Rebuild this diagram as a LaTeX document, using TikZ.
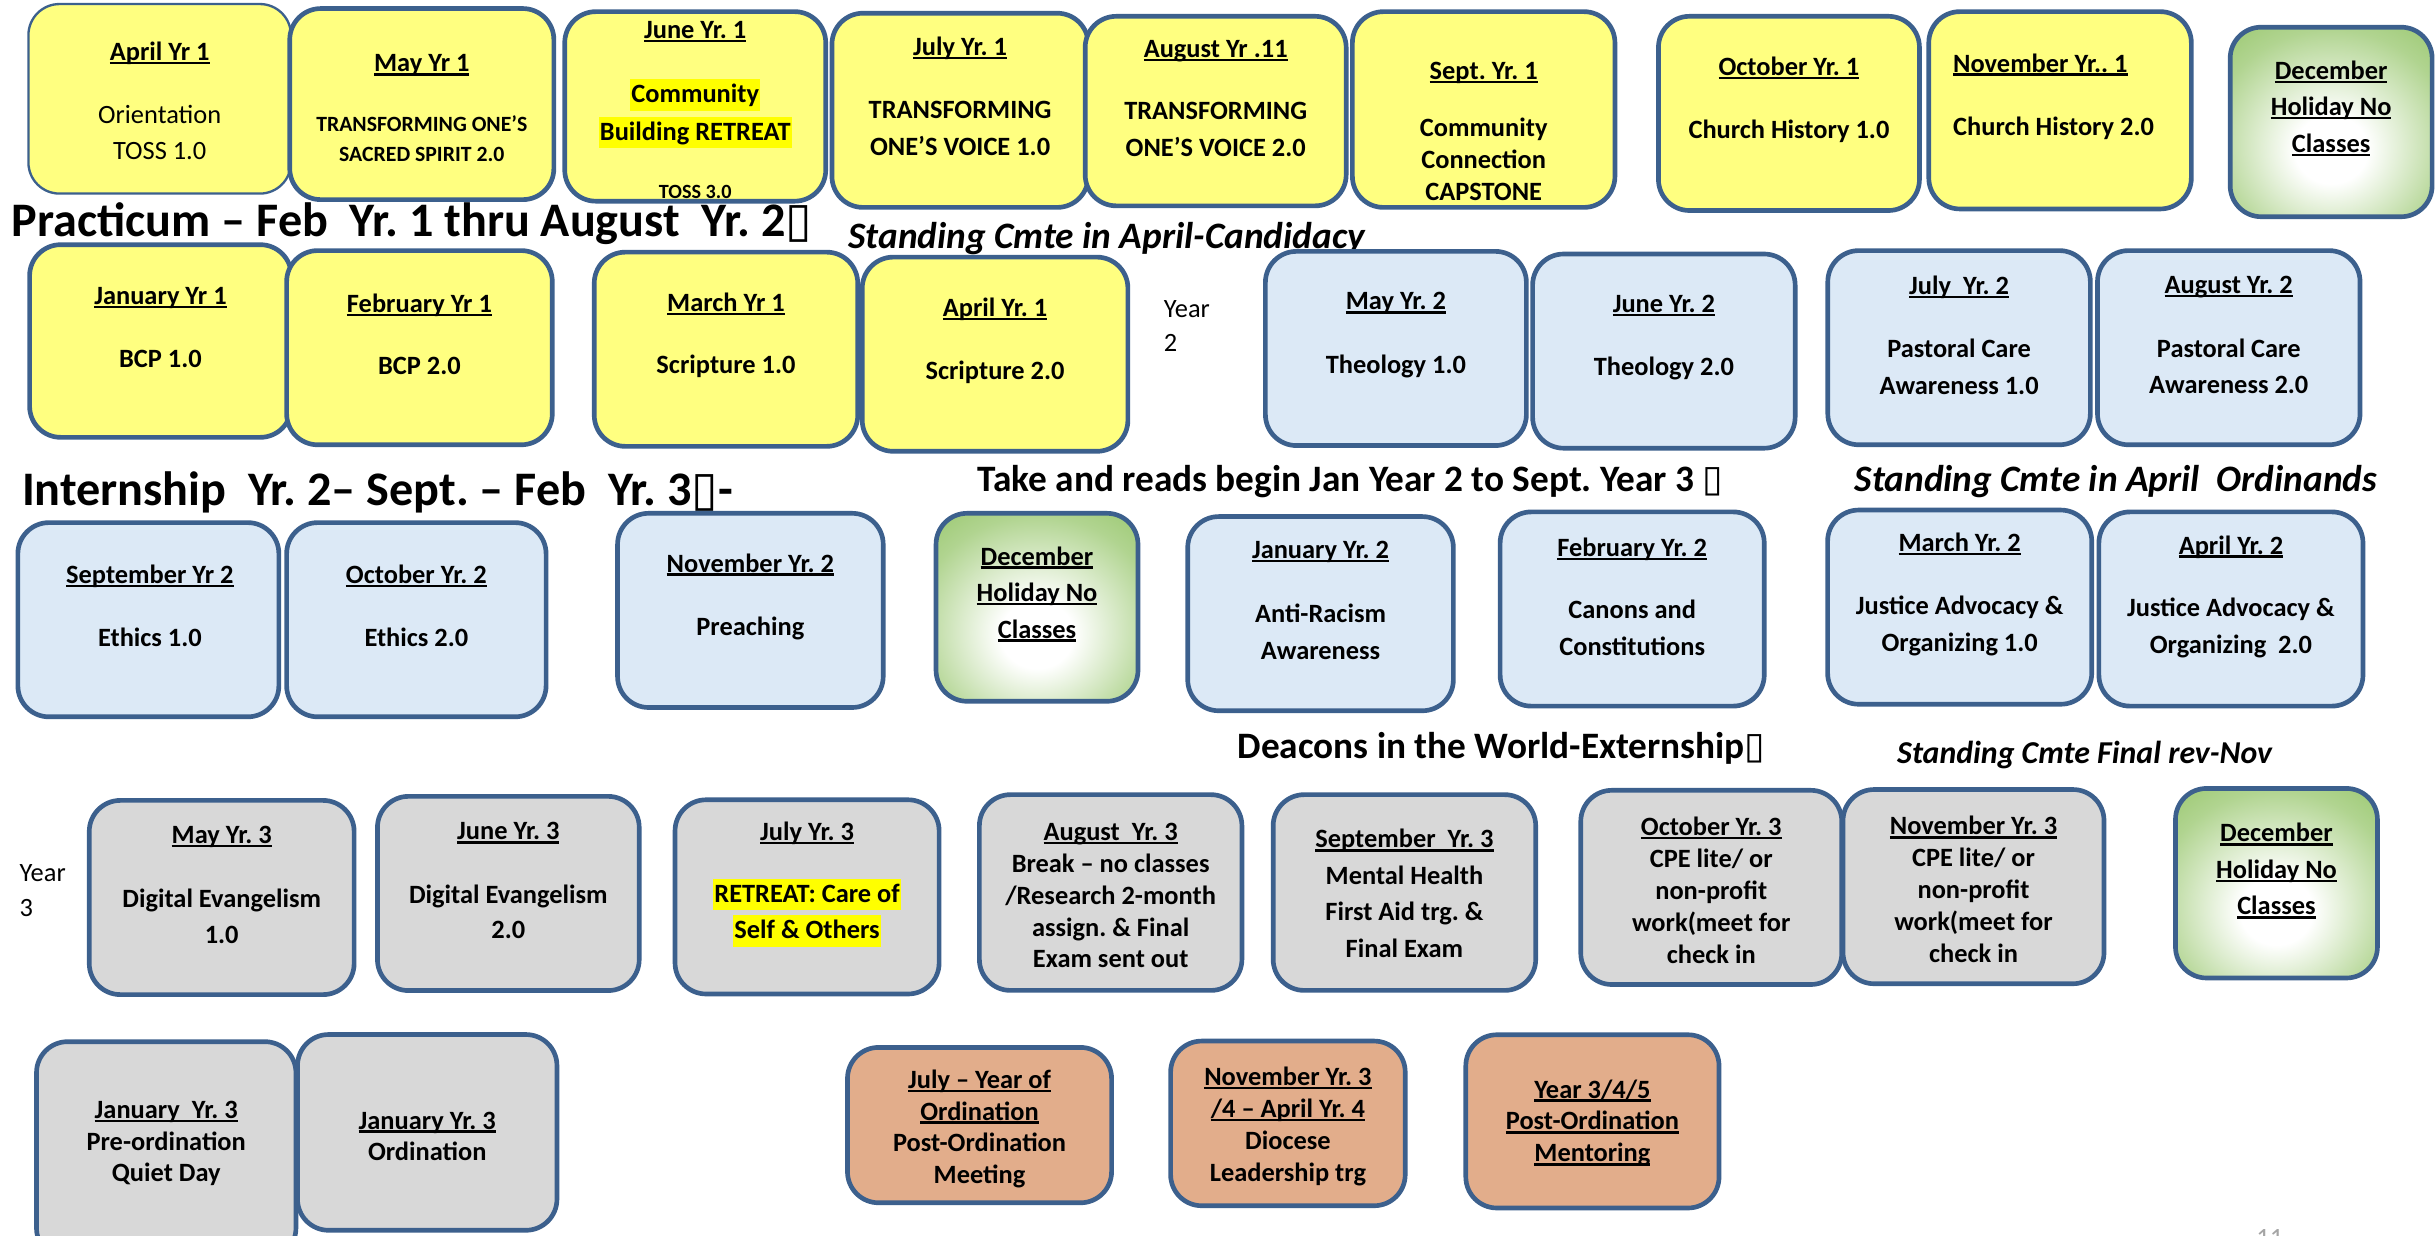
\documentclass[tikz,border=0pt]{standalone}
\usepackage{fontspec}
\setmainfont{Carlito}
\newfontfamily\symfont{DejaVu Sans}
\usepackage{tikz}

\definecolor{slotline}{RGB}{60,96,141}
\definecolor{slotyellow}{RGB}{255,255,128}
\definecolor{slotblue}{RGB}{220,233,246}
\definecolor{slotgrey}{RGB}{216,216,216}
\definecolor{slotorange}{RGB}{226,173,139}
\definecolor{holgreen}{RGB}{140,192,92}
\definecolor{hlyellow}{RGB}{255,255,0}
\definecolor{pagegrey}{RGB}{165,165,165}

% holiday boxes: white middle, green rim
\pgfdeclareradialshading{holshade}{\pgfpoint{0bp}{-8bp}}{color(0bp)=(white); color(9bp)=(white); color(30bp)=(holgreen!68); color(46bp)=(holgreen); color(100bp)=(holgreen)}

\newsavebox\undlbox
\newcommand\undl[1]{\sbox\undlbox{#1}\rlap{\rule[-0.14em]{\wd\undlbox}{0.09em}}\usebox\undlbox}
\newcommand\hlt[1]{{\setlength\fboxsep{0.8pt}\colorbox{hlyellow}{\rule[-0.26em]{0pt}{1.1em}#1}}}
\newcommand\tofu{{\symfont\char"25AF}}

\begin{document}
\frenchspacing
\begin{tikzpicture}[x=1pt, y=-1pt,
    slot/.style={draw=slotline, line width=3pt, rounded corners=20pt, inner sep=0pt, minimum width=168pt, minimum height=125pt},
    ylw/.style={slot, fill=slotyellow},
    blu/.style={slot, fill=slotblue},
    gry/.style={slot, fill=slotgrey},
    org/.style={slot, fill=slotorange},
    hol/.style={slot, shading=holshade, minimum width=130pt, minimum height=122pt},
    txt/.style={align=center, inner sep=0pt, font=\fontsize{17}{23.5}\selectfont\bfseries},
    tight/.style={txt, font=\fontsize{17}{20.5}\selectfont\bfseries},
    plain/.style={txt, align=left, anchor=west, font=\fontsize{17}{23.5}\selectfont},
    head/.style={anchor=west, inner sep=0pt, text height=20.5pt, text depth=6.8pt, font=\fontsize{31}{35}\selectfont\bfseries},
    sub/.style={anchor=west, inner sep=0pt, font=\fontsize{24}{28}\selectfont\bfseries},
    note/.style={sub, font=\fontsize{24}{28}\selectfont\bfseries\itshape}]

    % Page
    \path[fill=white, use as bounding box] (0,0) rectangle (1568,795);

    % Year 1
    \node[ylw, line width=1.5pt, minimum width=169pt, minimum height=122pt] (apr1) at (102.8,63.6) {};
    \node[ylw, minimum width=170pt, minimum height=123pt] (may1) at (271.5,67) {};
    \node[ylw, minimum height=122pt] (jun1) at (447.5,68.5) {};
    \node[ylw, minimum width=165pt] (jul1) at (618,71) {};
    \node[ylw, minimum height=122pt] (aug1) at (782.5,71.5) {};
    \node[ylw, minimum width=169pt, minimum height=126pt] (sep1) at (955,70.5) {};
    \node[ylw] (oct1) at (1151.5,73) {};
    \node[ylw, minimum width=169pt, minimum height=127pt] (nov1) at (1326,71) {};
    \node[hol] (dec1) at (1500.5,78.5) {};

    \node[txt] (apr1t) at (102.8,65) {\undl{April Yr 1}\\[16.6pt] {\mdseries Orientation}\\ {\mdseries TOSS 1.0}};
    \node[txt] (may1t) at (271.5,69.5) {\undl{May Yr 1}\\[14.7pt] {\fontsize{14}{16}\selectfont TRANSFORMING ONE’S}\\[-4.2pt] {\fontsize{14}{16}\selectfont SACRED SPIRIT 2.0}};
    \node[txt] (jun1t) at (447.5,70.8) {\undl{June Yr. 1}\\[17.7pt] \hlt{Community}\\[0.8pt] \hlt{Building RETREAT}\\[14pt] {\fontsize{13}{15}\selectfont TOSS 3.0}};
    \node[txt] (jul1t) at (618,62) {\undl{July Yr. 1}\\[17.3pt] TRANSFORMING\\ ONE’S VOICE 1.0};
    \node[txt] (aug1t) at (782.5,63.3) {\undl{August Yr .11}\\[16.9pt] TRANSFORMING\\ ONE’S VOICE 2.0};
    \node[txt] (sep1t) at (955,84.5) {\undl{Sept. Yr. 1}\\[13.4pt] Community\\[-3.1pt] Connection\\[-3.1pt] CAPSTONE};
    \node[txt] (oct1t) at (1151.5,64.4) {\undl{October Yr. 1}\\[17.3pt] Church History 1.0};
    \node[txt, align=left, anchor=west] (nov1t) at (1257,62.2) {\undl{November Yr.. 1}\\[17.3pt] Church History 2.0};
    \node[txt] (dec1t) at (1500.5,69.7) {\undl{December}\\ \undl{Holiday No}\\ \undl{Classes}};

    \node[head] (practicum) at (7.5,145.5) {Practicum – Feb\ \ Yr. 1 thru August\ \ Yr. 2\tofu};
    \node[note] (candidacy) at (546,153.4) {Standing Cmte in April-Candidacy};

    % Practicum
    \node[ylw, minimum width=168.5pt, minimum height=124pt] (jan1) at (103.3,219.5) {};
    \node[ylw, minimum width=171pt] (feb1) at (270,223.8) {};
    \node[ylw, minimum width=169.6pt] (mar1) at (467.3,224.8) {};
    \node[ylw, minimum width=171pt] (apr1b) at (640.5,228) {};
    \node[blu] (may2) at (898.5,224.3) {};
    \node[blu, minimum width=169pt] (jun2) at (1071,226) {};
    \node[blu, minimum width=169pt] (jul2) at (1261,223.8) {};
    \node[blu, minimum width=169pt] (aug2) at (1434.6,223.8) {};

    \node[txt] (jan1t) at (103.3,210.8) {\undl{January Yr 1}\\[16.9pt] BCP 1.0};
    \node[txt] (feb1t) at (270,215.4) {\undl{February Yr 1}\\[16.6pt] BCP 2.0};
    \node[txt] (mar1t) at (467.3,215.9) {\undl{March Yr 1}\\[16.8pt] Scripture 1.0};
    \node[txt] (apr1bt) at (640.5,219.2) {\undl{April Yr. 1}\\[16.8pt] Scripture 2.0};
    \node[plain] (year2) at (749,210) {Year\\[-1.5pt] 2};
    \node[txt] (may2t) at (898.5,215.7) {\undl{May Yr. 2}\\[17.2pt] Theology 1.0};
    \node[txt] (jun2t) at (1071,217.4) {\undl{June Yr. 2}\\[17.3pt] Theology 2.0};
    \node[txt] (jul2t) at (1261,215.7) {\undl{July\ \ Yr. 2}\\[17.3pt] Pastoral Care\\ Awareness 1.0};
    \node[txt] (aug2t) at (1434.6,215.7) {\undl{August Yr. 2}\\[17.3pt] Pastoral Care\\ Awareness 2.0};

    \node[head] (internship) at (14,318.3) {Internship\ \ Yr. 2– Sept. – Feb\ \ Yr. 3\tofu-};
    \node[sub] (takeread) at (629,310) {Take and reads begin Jan Year 2 to Sept. Year 3 \tofu};
    \node[note] (ordinands) at (1193.7,310) {Standing Cmte in April\ \ Ordinands};

    % Internship
    \node[blu] (sep2) at (95.5,398.9) {};
    \node[blu, minimum width=167pt] (oct2) at (268,398.9) {};
    \node[blu, minimum width=171pt] (nov2) at (483,392.9) {};
    \node[hol, minimum height=121pt] (dec2) at (667.5,390.9) {};
    \node[blu, minimum width=171pt] (jan2) at (850,395) {};
    \node[blu, minimum width=170pt] (feb2) at (1050.6,392) {};
    \node[blu, minimum width=170pt] (mar2) at (1261.4,390.8) {};
    \node[blu, minimum width=170pt] (apr2) at (1436,392) {};

    \node[txt] (sep2t) at (96.5,389.9) {\undl{September Yr 2}\\[17.3pt] Ethics 1.0};
    \node[txt] (oct2t) at (268,389.9) {\undl{October Yr. 2}\\[17.3pt] Ethics 2.0};
    \node[txt] (nov2t) at (483,384.1) {\undl{November Yr. 2}\\[17.3pt] Preaching};
    \node[txt] (dec2t) at (667.5,382.4) {\undl{December}\\ \undl{Holiday No}\\ \undl{Classes}};
    \node[txt] (jan2t) at (850,386.3) {\undl{January Yr. 2}\\[17.8pt] Anti-Racism\\ Awareness};
    \node[txt] (feb2t) at (1050.6,384) {\undl{February Yr. 2}\\[16.5pt] Canons and\\ Constitutions};
    \node[txt] (mar2t) at (1261.4,382.6) {\undl{March Yr. 2}\\[17.1pt] Justice Advocacy \&\\ Organizing 1.0};
    \node[txt] (apr2t) at (1436,384) {\undl{April Yr. 2}\\[16.8pt] Justice Advocacy \&\\ Organizing\ \ 2.0};

    \node[sub] (deacons) at (796.4,481.8) {Deacons in the World-Externship\tofu};
    \node[note, font=\fontsize{20.5}{24}\selectfont\bfseries\itshape] (finalrev) at (1221,486) {Standing Cmte Final rev-Nov};

    % Externship
    \node[plain] (year3) at (12.5,573.4) {Year\\[-0.8pt] 3};
    \node[gry, minimum width=170.5pt] (may3) at (142.7,577.7) {};
    \node[gry, minimum width=168.5pt] (jun3) at (327.2,575.1) {};
    \node[gry, minimum width=170pt] (jul3) at (519.5,577.3) {};
    \node[gry, minimum width=169pt, minimum height=126pt] (aug3) at (714.9,574.5) {};
    \node[gry, minimum width=169pt, minimum height=126pt] (sep3) at (904,574.5) {};
    \node[gry] (oct3) at (1101.5,571.2) {};
    \node[gry] (nov3) at (1270.3,570.7) {};
    \node[hol] (dec3) at (1465.3,568.5) {};

    \node[txt] (may3t) at (142.7,569.7) {\undl{May Yr. 3}\\[17.3pt] Digital Evangelism\\ 1.0};
    \node[txt] (jun3t) at (327.2,566.9) {\undl{June Yr. 3}\\[17.5pt] Digital Evangelism\\[-0.8pt] 2.0};
    \node[txt] (jul3t) at (519.5,569.2) {\undl{July Yr. 3}\\[16.2pt] \hlt{RETREAT: Care of}\\ \hlt{Self \& Others}};
    \node[tight] (aug3t) at (714.9,576.5) {\undl{August\ \ Yr. 3}\\ Break – no classes\\ /Research 2-month\\ assign. \& Final\\ Exam sent out};
    \node[txt] (sep3t) at (904,575.1) {\undl{September\ \ Yr. 3}\\ Mental Health\\ First Aid trg. \&\\ Final Exam};
    \node[tight] (oct3t) at (1101.5,573) {\undl{October Yr. 3}\\ CPE lite/ or\\ non-profit\\ work(meet for\\ check in};
    \node[tight] (nov3t) at (1270.3,572.5) {\undl{November Yr. 3}\\ CPE lite/ or\\ non-profit\\ work(meet for\\ check in};
    \node[txt] (dec3t) at (1465.3,560.6) {\undl{December}\\ \undl{Holiday No}\\ \undl{Classes}};

    % Ordination
    \node[gry, minimum width=167pt, minimum height=140pt] (jan3a) at (107,740.5) {};
    \node[gry, minimum width=167pt, minimum height=126pt] (jan3b) at (275,728.9) {};
    \node[org, minimum width=170pt, minimum height=100pt] (ordmeet) at (630.5,724.2) {};
    \node[org, minimum width=151pt, minimum height=106pt] (ldrtrg) at (829,723.1) {};
    \node[org, minimum width=163pt, minimum height=111.5pt] (mentor) at (1025,721.8) {};

    \node[tight] (jan3at) at (107,736) {\undl{January\ \ Yr. 3}\\ Pre-ordination\\ Quiet Day};
    \node[tight] (jan3bt) at (275,731.5) {\undl{January Yr. 3}\\ Ordination};
    \node[tight] (ordmeett) at (630.5,726.7) {\undl{July – Year of}\\ \undl{Ordination}\\ Post-Ordination\\ Meeting};
    \node[tight] (ldrtrgt) at (829,725) {\undl{November Yr. 3}\\ \undl{/4 – April Yr. 4}\\ Diocese\\ Leadership trg};
    \node[tight] (mentort) at (1025,722.8) {\undl{Year 3/4/5}\\ \undl{Post-Ordination}\\ \undl{Mentoring}};

    \node[anchor=north, inner sep=0pt, font=\fontsize{17}{20}\selectfont, text=pagegrey] (pagenum) at (1461,791) {11};

\end{tikzpicture}
\end{document}
